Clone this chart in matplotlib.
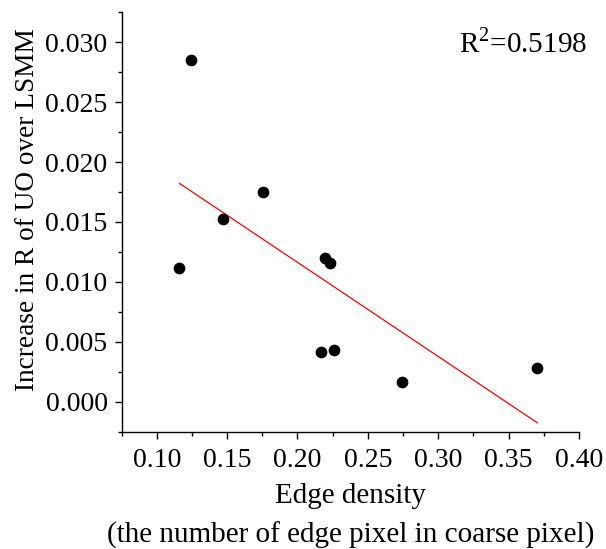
import numpy as np
import matplotlib
matplotlib.use('Agg')
import matplotlib.pyplot as plt
from matplotlib.ticker import MultipleLocator

plt.rcParams['font.family'] = 'Liberation Serif'
plt.rcParams['mathtext.fontset'] = 'custom'
plt.rcParams['mathtext.rm'] = 'Liberation Serif'

# Datos
densidad = [0.1162, 0.1245, 0.1469, 0.1757, 0.2167, 0.2193, 0.2233, 0.2262, 0.2745, 0.3705]
incremento = [0.01117, 0.02855, 0.01527, 0.01749, 0.00412, 0.01198, 0.01159, 0.00435, 0.00167, 0.00278]
texto_r2 = 'R$^{2}$=0.5198'

x = np.array(densidad)
y = np.array(incremento)
m, b = np.polyfit(x, y, 1)
x_ajuste = np.array([x.min(), x.max()])

fig = plt.figure(figsize=(6.06, 5.49), dpi=100)
ax = fig.add_axes([0.2005, 0.2137, 0.7549, 0.7639])

ax.plot(x_ajuste, m * x_ajuste + b, color='red', linewidth=0.9)
ax.scatter(x, y, s=55, color='black', zorder=3)

ax.set_xlim(0.075, 0.40)
ax.set_ylim(-0.0025, 0.0325)
ax.xaxis.set_major_locator(MultipleLocator(0.05))
ax.xaxis.set_minor_locator(MultipleLocator(0.025))
ax.yaxis.set_major_locator(MultipleLocator(0.005))
ax.yaxis.set_minor_locator(MultipleLocator(0.0025))
ax.xaxis.set_major_formatter(plt.FormatStrFormatter('%.2f'))
ax.yaxis.set_major_formatter(plt.FormatStrFormatter('%.3f'))

for lado in ['top', 'right']:
    ax.spines[lado].set_visible(False)
for lado in ['left', 'bottom']:
    ax.spines[lado].set_linewidth(1.0)

ax.tick_params(which='major', direction='out', length=5, width=1.0, labelsize=20)
ax.tick_params(axis='x', which='major', pad=7)
ax.tick_params(axis='y', which='major', pad=5)
ax.tick_params(which='minor', direction='out', length=3, width=1.0)

ax.set_xlabel('Edge density\n(the number of edge pixel in coarse pixel)', fontsize=21,
              linespacing=1.6, labelpad=7)
ax.set_ylabel('Increase in R of UO over LSMM', fontsize=19.6)
ax.yaxis.set_label_coords(-0.178, 0.529)
ax.text(1.017, 0.905, texto_r2, transform=ax.transAxes, ha='right', va='baseline', fontsize=21)

fig.savefig('out.png', dpi=100)
